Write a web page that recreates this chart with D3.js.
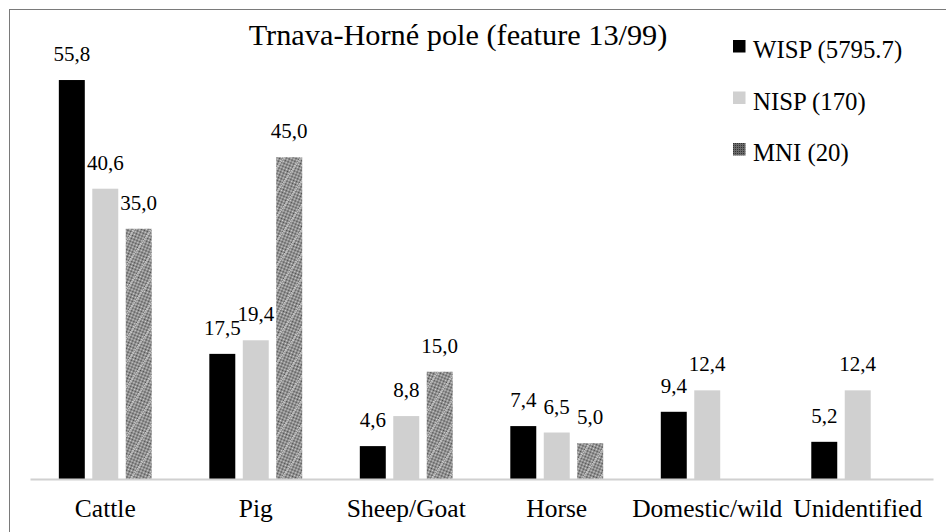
<!DOCTYPE html>
<html>
<head>
<meta charset="utf-8">
<script src="https://cdn.jsdelivr.net/npm/d3@7"></script>
<style>
    body { margin: 0; background: #fff; }
</style>
</head>
<body>
<script>
//chart data
var categories = ["Cattle", "Pig", "Sheep/Goat", "Horse", "Domestic/wild", "Unidentified"];
var seriesKeys = ["WISP", "NISP", "MNI"];
var seriesLabels = ["WISP (5795.7)", "NISP (170)", "MNI (20)"];
var wispValues = [55.8, 17.5, 4.6, 7.4, 9.4, 5.2];
var nispValues = [40.6, 19.4, 8.8, 6.5, 12.4, 12.4];
var mniValues = [35.0, 45.0, 15.0, 5.0, null, null];
var chartTitle = "Trnava-Horné pole (feature 13/99)";

(function(){

var width = 946,
    height = 532,
    serif = "'Liberation Serif'";

var svg = d3.select("body")
    .append("svg")
    .attr("width", width)
    .attr("height", height);

//patterns for the MNI bars and legend key
var defs = svg.append("defs");

var dither = defs.append("pattern")
    .attr("id", "dither")
    .attr("width", 2)
    .attr("height", 2)
    .attr("patternUnits", "userSpaceOnUse");
dither.append("rect").attr("width", 2).attr("height", 2).attr("fill", "#d4d4d4");
dither.append("rect").attr("width", 1).attr("height", 1).attr("fill", "#4a4a4a");
dither.append("rect").attr("x", 1).attr("y", 1).attr("width", 1).attr("height", 1).attr("fill", "#4a4a4a");

var hatch = defs.append("pattern")
    .attr("id", "hatch")
    .attr("width", 14)
    .attr("height", 14)
    .attr("patternUnits", "userSpaceOnUse")
    .attr("patternTransform", "rotate(35)");
hatch.append("rect").attr("width", 14).attr("height", 14).attr("fill", "url(#dither)");
hatch.append("line")
    .attr("x1", 0).attr("y1", 0).attr("x2", 0).attr("y2", 14)
    .attr("stroke", "#bdbdbd")
    .attr("stroke-width", 2.5);

var darkDots = defs.append("pattern")
    .attr("id", "darkDots")
    .attr("width", 2)
    .attr("height", 2)
    .attr("patternUnits", "userSpaceOnUse");
darkDots.append("rect").attr("width", 2).attr("height", 2).attr("fill", "#6a6a6a");
darkDots.append("rect").attr("width", 1).attr("height", 1).attr("fill", "#333");

var colors = {WISP: "#000000", NISP: "#d0d0d0", MNI: "url(#hatch)"};
var legendColors = {WISP: "#000000", NISP: "#d0d0d0", MNI: "url(#darkDots)"};

//outer frame
svg.append("rect")
    .attr("x", 9.5)
    .attr("y", 9.5)
    .attr("width", 960)
    .attr("height", 560)
    .attr("fill", "none")
    .attr("stroke", "#7a7a7a")
    .attr("stroke-width", 1);

//build rows for the grouped bars
var rows = categories.map(function(c, i){
    return {category: c, WISP: wispValues[i], NISP: nispValues[i], MNI: mniValues[i]};
});

//scales
var x0 = d3.scaleBand()
    .domain(categories)
    .range([30, 933])
    .paddingInner(0.333)
    .paddingOuter(0.1667);

var x1 = d3.scaleBand()
    .domain(seriesKeys)
    .range([0, x0.bandwidth()])
    .paddingInner(0.224)
    .paddingOuter(0.112);

var y = d3.scaleLinear()
    .domain([0, 60])
    .range([479, 50]);

//bars
var groups = svg.selectAll(".group")
    .data(rows)
    .enter()
    .append("g")
    .attr("class", "group")
    .attr("transform", function(d){ return "translate(" + x0(d.category) + ",0)"; });

var barData = function(d){
    return seriesKeys.filter(function(k){ return d[k] != null; })
        .map(function(k){ return {key: k, value: d[k]}; });
};

groups.selectAll("rect")
    .data(barData)
    .enter()
    .append("rect")
    .attr("x", function(d){ return x1(d.key); })
    .attr("y", function(d){ return y(d.value); })
    .attr("width", x1.bandwidth())
    .attr("height", function(d){ return y(0) - y(d.value); })
    .attr("fill", function(d){ return colors[d.key]; });

//value labels
groups.selectAll(".numbers")
    .data(barData)
    .enter()
    .append("text")
    .attr("class", "numbers")
    .attr("text-anchor", "middle")
    .style("font-family", serif)
    .style("font-size", "21px")
    .attr("x", function(d){ return x1(d.key) + x1.bandwidth() / 2; })
    .attr("y", function(d){ return y(d.value) - 19; })
    .text(function(d){ return d.value.toFixed(1).replace(".", ","); });

//category axis
var xAxis = svg.append("g")
    .attr("transform", "translate(0," + y(0) + ")")
    .call(d3.axisBottom(x0).tickSize(0).tickPadding(20));

xAxis.attr("font-family", null);

xAxis.select(".domain")
    .attr("stroke", "#d0d0d0")
    .attr("stroke-width", 2);

xAxis.selectAll("text")
    .style("font-family", serif)
    .style("font-size", "25.5px")
    .attr("fill", "#000");

//title
svg.append("text")
    .attr("x", 458)
    .attr("y", 45)
    .attr("text-anchor", "middle")
    .style("font-family", serif)
    .style("font-size", "30.3px")
    .text(chartTitle);

//legend
var legend = svg.selectAll(".legend")
    .data(seriesKeys)
    .enter()
    .append("g")
    .attr("class", "legend")
    .attr("transform", function(d, i){ return "translate(733," + (40 + i * 51.5) + ")"; });

legend.append("rect")
    .attr("width", 12.5)
    .attr("height", 12.5)
    .attr("fill", function(d){ return legendColors[d]; });

legend.append("text")
    .attr("x", 20)
    .attr("y", 18)
    .style("font-family", serif)
    .style("font-size", "24.8px")
    .text(function(d, i){ return seriesLabels[i]; });

})();
</script>
</body>
</html>
